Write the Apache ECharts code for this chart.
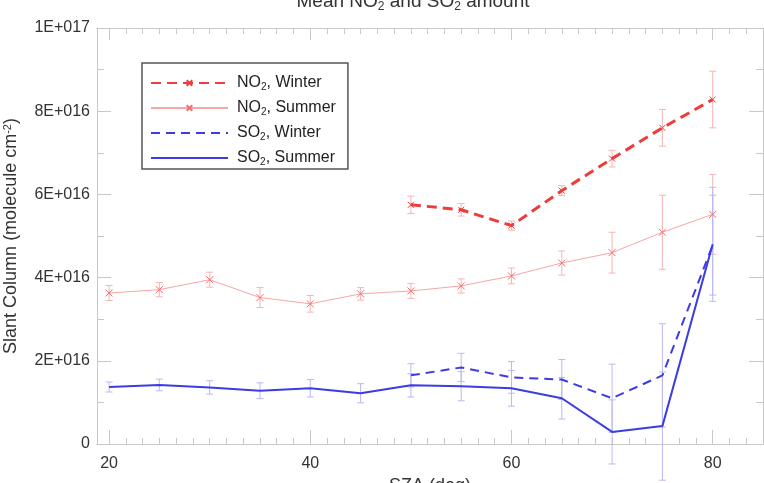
<!DOCTYPE html>
<html>
<head>
<meta charset="utf-8">
<script src="https://cdn.jsdelivr.net/npm/echarts@6/dist/echarts.min.js"></script>
<style>
  html, body { margin: 0; padding: 0; background: #fff; }
  #chart { width: 764px; height: 483px; }
</style>
</head>
<body>
<div id="chart"></div>
<script>
// SZA values (deg)
var winterSZA = [50, 55, 60, 65, 70, 75, 80];
var summerSZA = [20, 25, 30, 35, 40, 45, 50, 55, 60, 65, 70, 75, 80];

// slant columns (molecule cm-2) and their error bars
var no2Winter    = [5.75e16, 5.63e16, 5.25e16, 6.09e16, 6.86e16, 7.60e16, 8.28e16];
var no2WinterErr = [2.1e15, 1.5e15, 1.1e15, 1.2e15, 2.0e15, 4.4e15, 6.8e15];
var no2Summer    = [3.63e16, 3.71e16, 3.95e16, 3.52e16, 3.37e16, 3.61e16, 3.68e16, 3.80e16, 4.04e16, 4.35e16, 4.60e16, 5.09e16, 5.52e16];
var no2SummerErr = [1.8e15, 1.7e15, 1.8e15, 2.4e15, 2.0e15, 1.5e15, 1.8e15, 1.7e15, 1.9e15, 2.9e15, 4.9e15, 8.9e15, 9.6e15];
var so2Winter    = [1.65e16, 1.84e16, 1.60e16, 1.55e16, 1.10e16, 1.65e16, 4.78e16];
var so2WinterErr = [2.8e15, 3.4e15, 3.8e15, 4.8e15, 8.2e15, 12.4e15, 12.0e15];
var so2Summer    = [1.37e16, 1.42e16, 1.36e16, 1.28e16, 1.34e16, 1.22e16, 1.41e16, 1.39e16, 1.34e16, 1.10e16, 2.9e15, 4.3e15, 4.8e16];
var so2SummerErr = [1.2e15, 1.4e15, 1.6e15, 1.9e15, 2.1e15, 2.3e15, 2.8e15, 3.5e15, 4.3e15, 5.0e15, 7.7e15, 13.0e15, 13.7e15];

// axis ticks
var xMajor = [20, 40, 60, 80];
var xMinor = [];
for (var t = 20; t <= 85.01; t += 5 / 3) {
  var r = Math.round(t * 1000) / 1000;
  if (Math.abs(r / 20 - Math.round(r / 20)) > 0.001) xMinor.push(r);
}

var FONT = '"Liberation Sans", Arial, sans-serif';
var FRAME = '#c8c8c8';
var X_SYM = 'path://M0,0L10,10M10,0L0,10';

var chart = echarts.init(document.getElementById('chart'));

function pairs(xs, ys) {
  return xs.map(function (x, i) { return [x, ys[i]]; });
}
function bars(xs, ys, es) {
  return xs.map(function (x, i) { return [x, ys[i] - es[i], ys[i] + es[i]]; });
}
function sci(v) {
  if (v === 0) return '0';
  var e = Math.floor(Math.log10(v) + 1e-9);
  var m = Math.round(v / Math.pow(10, e));
  return m + 'E+' + String(e).padStart(3, '0');
}

function errorSeries(data, color) {
  return {
    type: 'custom',
    clip: false,
    z: 1,
    silent: true,
    encode: { x: 0, y: [1, 2] },
    data: data,
    renderItem: function (params, api) {
      var top = api.coord([api.value(0), api.value(2)]);
      var bot = api.coord([api.value(0), api.value(1)]);
      var w = 3.5;
      var st = { stroke: color, lineWidth: 1 };
      return {
        type: 'group',
        children: [
          { type: 'line', shape: { x1: top[0], y1: top[1], x2: bot[0], y2: bot[1] }, style: st },
          { type: 'line', shape: { x1: top[0] - w, y1: top[1], x2: top[0] + w, y2: top[1] }, style: st },
          { type: 'line', shape: { x1: bot[0] - w, y1: bot[1], x2: bot[0] + w, y2: bot[1] }, style: st }
        ]
      };
    }
  };
}

function xAx(pos, ticks, len, withLabel) {
  return {
    type: 'value', min: 18.8, max: 85, position: pos,
    axisLine: { show: true, onZero: false, lineStyle: { color: FRAME, width: 1 } },
    axisTick: { show: true, inside: true, length: len, customValues: ticks, lineStyle: { color: FRAME } },
    axisLabel: withLabel ? { show: true, customValues: ticks, fontSize: 16, color: '#333', fontFamily: FONT, margin: 12 } : { show: false },
    splitLine: { show: false }
  };
}
function yAx(pos, withLabel) {
  return {
    type: 'value', min: 0, max: 1e17, interval: 2e16, position: pos,
    axisLine: { show: true, lineStyle: { color: FRAME, width: 1 } },
    axisTick: { show: true, inside: true, length: 14, lineStyle: { color: FRAME } },
    minorTick: { show: true, splitNumber: 2, length: 7, lineStyle: { color: FRAME } },
    axisLabel: withLabel ? { show: true, formatter: sci, fontSize: 16, color: '#333', fontFamily: FONT, margin: 7 } : { show: false },
    splitLine: { show: false }
  };
}

var xAxes = [xAx('bottom', xMajor, 14, true), xAx('bottom', xMinor, 6, false), xAx('top', xMajor, 12, false), xAx('top', xMinor, 6, false)];
xAxes[0].name = 'SZA (deg)';
xAxes[0].nameLocation = 'middle';
xAxes[0].nameGap = 29;
xAxes[0].nameTextStyle = { fontSize: 18, color: '#333', fontFamily: FONT };

var yAxes = [yAx('left', true), yAx('right', false)];
yAxes[0].name = 'Slant Column (molecule cm{sup|-2})';
yAxes[0].nameLocation = 'middle';
yAxes[0].nameGap = 77;
yAxes[0].nameTextStyle = {
  fontSize: 18, color: '#333', fontFamily: FONT,
  rich: { sup: { fontSize: 11, verticalAlign: 'top', lineHeight: 11, fontFamily: FONT, color: '#333' } }
};

var option = {
  backgroundColor: '#ffffff',
  animation: false,
  title: {
    text: 'Mean NO{s|2} and SO{s|2} amount',
    left: 408, textAlign: 'center', top: -14,
    textStyle: {
      fontSize: 19, fontWeight: 'normal', color: '#333', fontFamily: FONT, lineHeight: 22,
      rich: { s: { fontSize: 12, verticalAlign: 'bottom', lineHeight: 12, color: '#333', fontFamily: FONT } }
    }
  },
  grid: { left: 97, right: 1, top: 28, bottom: 39, outerBoundsMode: 'none' },
  legend: {
    orient: 'vertical', left: 142, top: 63,
    data: ['NO2, Winter', 'NO2, Summer', 'SO2, Winter', 'SO2, Summer'],
    backgroundColor: '#fff',
    borderColor: '#555', borderWidth: 1.5, borderRadius: 0,
    padding: [11, 12, 2, 8],
    itemWidth: 77, itemHeight: 7, itemGap: 7,
    formatter: function (name) { return name.replace('2', '{sub|2}'); },
    textStyle: {
      fontSize: 16, color: '#222', fontFamily: FONT, lineHeight: 18, padding: [0, 0, 0, 4],
      rich: { sub: { fontSize: 10, verticalAlign: 'bottom', lineHeight: 10, color: '#222', fontFamily: FONT } }
    }
  },
  xAxis: xAxes,
  yAxis: yAxes,
  series: [
    errorSeries(bars(summerSZA, no2Summer, no2SummerErr), '#f7b4b4'),
    errorSeries(bars(winterSZA, no2Winter, no2WinterErr), '#f7b4b4'),
    errorSeries(bars(summerSZA, so2Summer, so2SummerErr), '#b9b9f3'),
    errorSeries(bars(winterSZA, so2Winter, so2WinterErr), '#b9b9f3'),
    {
      name: 'NO2, Winter', type: 'line', z: 4,
      data: pairs(winterSZA, no2Winter),
      symbol: X_SYM, symbolSize: 6,
      itemStyle: { color: 'rgba(0,0,0,0)', borderColor: '#ee3b3b', borderWidth: 1 },
      lineStyle: { color: '#ee3b3b', width: 3, type: [10, 6] }
    },
    {
      name: 'NO2, Summer', type: 'line', z: 3,
      data: pairs(summerSZA, no2Summer),
      symbol: X_SYM, symbolSize: 7,
      itemStyle: { color: 'rgba(0,0,0,0)', borderColor: '#f07070', borderWidth: 1 },
      lineStyle: { color: '#f7a6a6', width: 1 }
    },
    {
      name: 'SO2, Winter', type: 'line', z: 3,
      data: pairs(winterSZA, so2Winter),
      symbol: 'none',
      itemStyle: { color: 'rgba(0,0,0,0)', borderWidth: 0 },
      lineStyle: { color: '#3c3ce2', width: 2, type: [9, 6] }
    },
    {
      name: 'SO2, Summer', type: 'line', z: 3,
      data: pairs(summerSZA, so2Summer),
      symbol: 'none',
      itemStyle: { color: 'rgba(0,0,0,0)', borderWidth: 0 },
      lineStyle: { color: '#3c3ce2', width: 2 }
    }
  ]
};

chart.setOption(option);
</script>
</body>
</html>
